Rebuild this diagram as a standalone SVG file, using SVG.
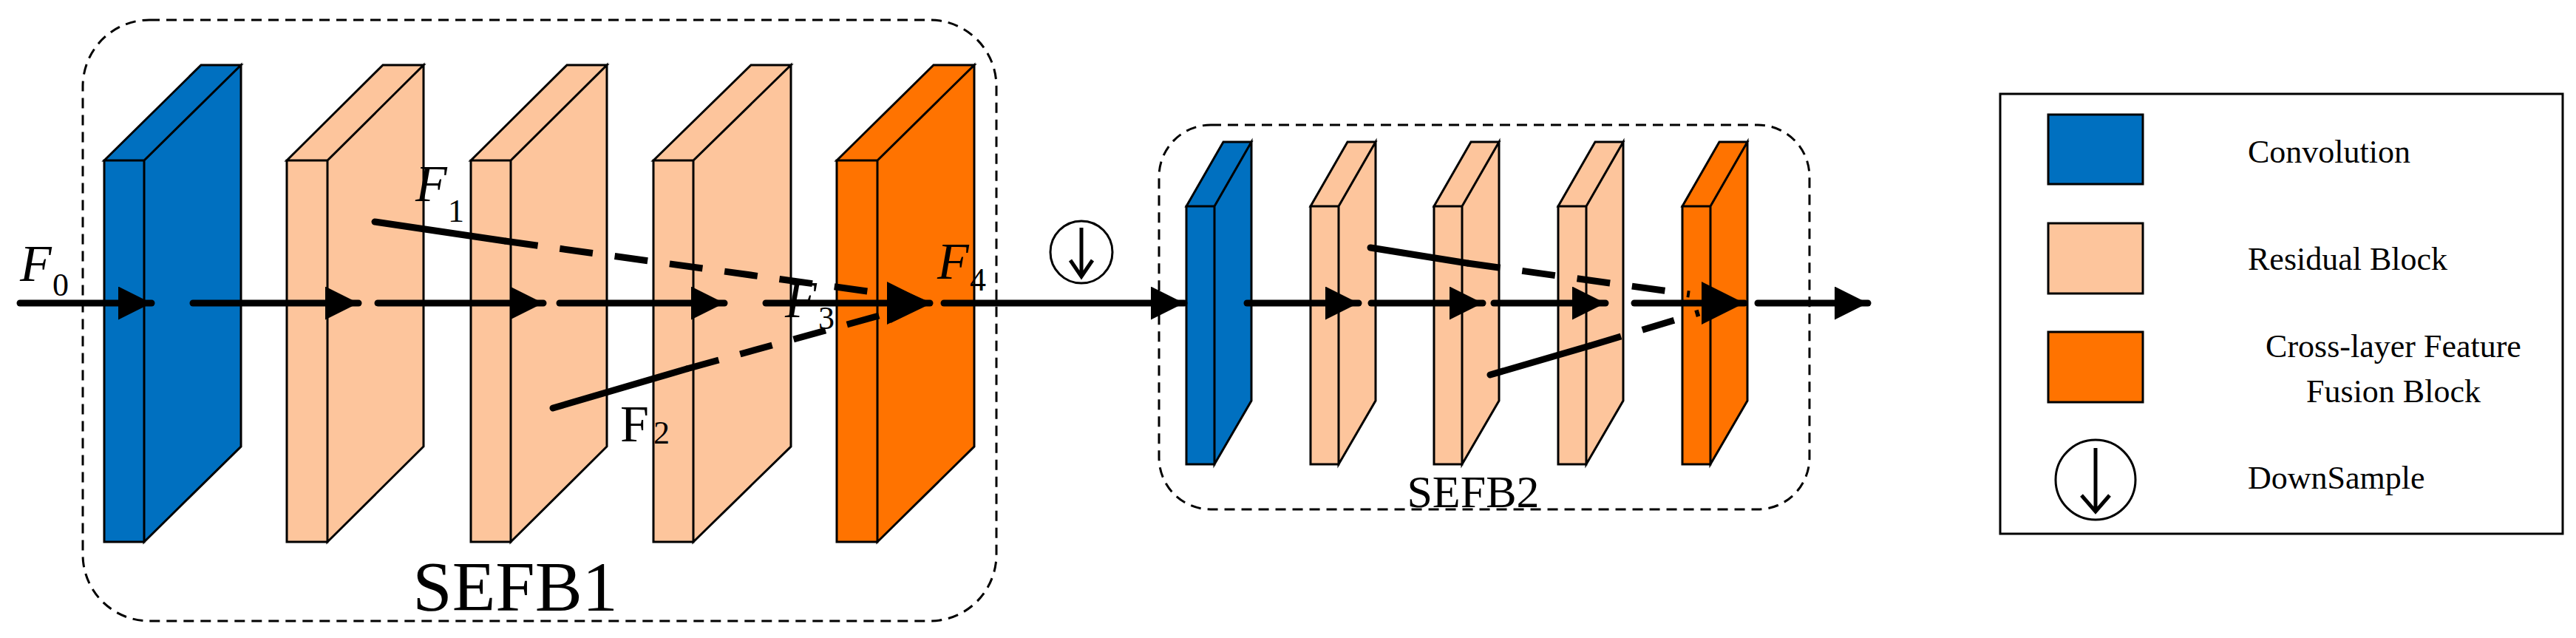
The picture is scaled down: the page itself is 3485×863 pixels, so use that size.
<svg xmlns="http://www.w3.org/2000/svg" width="3485" height="863" viewBox="0 0 3485 863">
<style>
.k{stroke:#000;stroke-width:3;stroke-linejoin:miter}
.blue{fill:#0070C0}.res{fill:#FDC59C}.org{fill:#FF7300}
.t{font-family:"Liberation Serif",serif;fill:#000}
.ln{stroke:#000;stroke-width:9;fill:none;stroke-linecap:round}
.ds{stroke:#000;stroke-width:9;fill:none;stroke-dasharray:45 30}
.box{fill:none;stroke:#000;stroke-width:3;stroke-dasharray:14 9}
</style>
<defs>
<marker id="ah" viewBox="0 0 10 10" refX="10" refY="5" markerWidth="5" markerHeight="5" markerUnits="strokeWidth" orient="auto"><path d="M0,0 L10,5 L0,10 Z" fill="#000"/></marker>
<marker id="ab" viewBox="0 0 10 10" refX="10" refY="5" markerWidth="6.5" markerHeight="6.5" markerUnits="strokeWidth" orient="auto"><path d="M0,0 L10,5 L0,10 Z" fill="#000"/></marker>
</defs>
<rect class="box" x="112" y="27" width="1236" height="813" rx="90"/>
<rect class="box" x="1568" y="169" width="880" height="520" rx="70"/>
<g id="b1_conv"><path class="k blue" d="M141,217 h54 v516 h-54 Z M141,217 l131,-129 h54 l-131,129 Z M195,217 l131,-129 v516 l-131,129 Z"/></g>
<g id="b1_res1"><path class="k res" d="M388,217 h55 v516 h-55 Z M388,217 l130,-129 h55 l-130,129 Z M443,217 l130,-129 v516 l-130,129 Z"/></g>
<g id="b1_res2"><path class="k res" d="M637,217 h54 v516 h-54 Z M637,217 l130,-129 h54 l-130,129 Z M691,217 l130,-129 v516 l-130,129 Z"/></g>
<g id="b1_res3"><path class="k res" d="M884,217 h54 v516 h-54 Z M884,217 l132,-129 h54 l-132,129 Z M938,217 l132,-129 v516 l-132,129 Z"/></g>
<g id="b1_fuse"><path class="k org" d="M1132,217 h55 v516 h-55 Z M1132,217 l131,-129 h55 l-131,129 Z M1187,217 l131,-129 v516 l-131,129 Z"/></g>
<g id="b2_conv"><path class="k blue" d="M1605,279 h38 v349 h-38 Z M1605,279 l50,-87 h38 l-50,87 Z M1643,279 l50,-87 v350 l-50,86 Z" transform="translate(0,0)"/></g>
<g id="b2_res1"><path class="k res" d="M1773,279 h38 v349 h-38 Z M1773,279 l50,-87 h38 l-50,87 Z M1811,279 l50,-87 v350 l-50,86 Z"/></g>
<g id="b2_res2"><path class="k res" d="M1940,279 h38 v349 h-38 Z M1940,279 l50,-87 h38 l-50,87 Z M1978,279 l50,-87 v350 l-50,86 Z"/></g>
<g id="b2_res3"><path class="k res" d="M2108,279 h38 v349 h-38 Z M2108,279 l50,-87 h38 l-50,87 Z M2146,279 l50,-87 v350 l-50,86 Z"/></g>
<g id="b2_fuse"><path class="k org" d="M2276,279 h38 v349 h-38 Z M2276,279 l50,-87 h38 l-50,87 Z M2314,279 l50,-87 v350 l-50,86 Z"/></g>
<g id="connectors">
<line class="ln" x1="27" y1="410" x2="205" y2="410" marker-end="url(#ah)"/>
<line class="ln" x1="261" y1="410" x2="485" y2="410" marker-end="url(#ah)"/>
<line class="ln" x1="511" y1="410" x2="735" y2="410" marker-end="url(#ah)"/>
<line class="ln" x1="757" y1="410" x2="980" y2="410" marker-end="url(#ah)"/>
<line class="ln" x1="1036" y1="410" x2="1258" y2="410" marker-end="url(#ab)"/>
<line class="ln" x1="507" y1="300" x2="683" y2="326"/>
<line class="ds" x1="683" y1="326" x2="1210" y2="399"/>
<line class="ln" x1="748" y1="552" x2="929" y2="499"/>
<line class="ds" x1="929" y1="499" x2="1200" y2="424"/>
<path d="M1205,385 L1261,410 L1205,437 Z" fill="#000"/>
<line class="ln" x1="1277" y1="410" x2="1602" y2="410" marker-end="url(#ah)"/>
<line class="ln" x1="1687" y1="410" x2="1838" y2="410" marker-end="url(#ah)"/>
<line class="ln" x1="1855" y1="410" x2="2006" y2="410" marker-end="url(#ah)"/>
<line class="ln" x1="2021" y1="410" x2="2172" y2="410" marker-end="url(#ah)"/>
<line class="ln" x1="2211" y1="410" x2="2360" y2="410" marker-end="url(#ab)"/>
<line class="ln" x1="2378" y1="410" x2="2527" y2="410" marker-end="url(#ah)"/>
<line class="ln" x1="1854" y1="335" x2="1985" y2="356"/>
<line class="ds" x1="1985" y1="356" x2="2286" y2="398"/>
<line class="ln" x1="2016" y1="507" x2="2150" y2="468"/>
<line class="ds" x1="2150" y1="468" x2="2299" y2="423"/>
</g>
<g id="downsample">
<circle cx="1463" cy="341" r="42" fill="none" stroke="#000" stroke-width="3"/>
<path d="M1463,308 V372 M1448,352 L1463,374 L1478,352" fill="none" stroke="#000" stroke-width="5"/>
</g>
<g id="labels">
<text class="t" x="27" y="380" font-size="70" font-style="italic">F</text><text class="t" x="71" y="400" font-size="44">0</text>
<text class="t" x="562" y="272" font-size="70" font-style="italic">F</text><text class="t" x="606" y="300" font-size="44">1</text>
<text class="t" x="839" y="597" font-size="70">F</text><text class="t" x="884" y="600" font-size="44">2</text>
<text class="t" x="1062" y="429" font-size="70" font-style="italic">F</text><text class="t" x="1107" y="445" font-size="44">3</text>
<text class="t" x="1268" y="377" font-size="70" font-style="italic">F</text><text class="t" x="1312" y="393" font-size="44">4</text>
<text class="t" x="697" y="826" font-size="96" text-anchor="middle">SEFB1</text>
<text class="t" x="1993" y="686" font-size="62" text-anchor="middle">SEFB2</text>
</g>
<g id="legend">
<rect x="2706" y="127" width="761" height="595" fill="none" stroke="#000" stroke-width="3"/>
<rect class="k blue" x="2771" y="155" width="128" height="94"/>
<rect class="k res" x="2771" y="302" width="128" height="95"/>
<rect class="k org" x="2771" y="449" width="128" height="95"/>
<circle cx="2835" cy="649" r="54" fill="none" stroke="#000" stroke-width="3"/>
<path d="M2835,606 V690 M2816,670 L2835,692 L2854,670" fill="none" stroke="#000" stroke-width="5"/>
<text class="t" x="3041" y="220" font-size="44">Convolution</text>
<text class="t" x="3041" y="365" font-size="44">Residual Block</text>
<text class="t" x="3238" y="483" font-size="44" text-anchor="middle">Cross-layer Feature</text>
<text class="t" x="3238" y="544" font-size="44" text-anchor="middle">Fusion Block</text>
<text class="t" x="3041" y="661" font-size="44">DownSample</text>
</g>
</svg>
